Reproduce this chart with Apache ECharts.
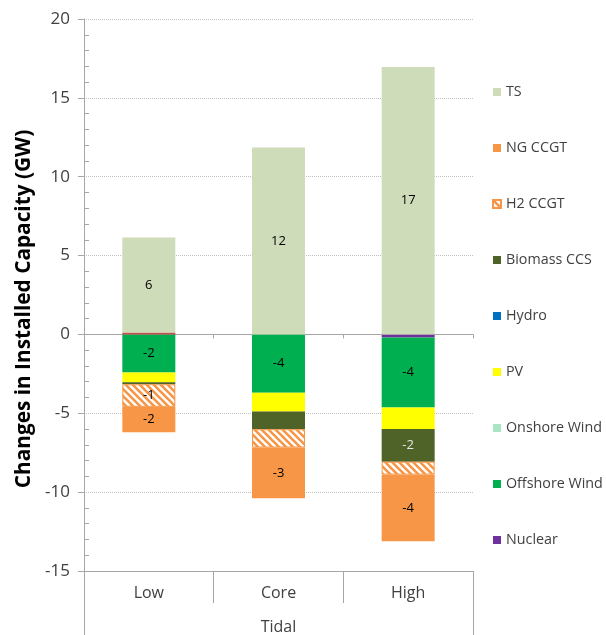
<!DOCTYPE html>
<html>
<head>
<meta charset="utf-8">
<script src="https://cdn.jsdelivr.net/npm/echarts@6/dist/echarts.min.js"></script>
<style>html,body{margin:0;padding:0;background:#fff;}#c{width:606px;height:635px;}</style>
</head>
<body>
<div id="c"></div>
<script>
// ---- data ----
var categories = ['Low', 'Core', 'High'];
var groupLabel = ['Tidal'];
var nuclear      = [0, 0, -0.2];
var offshoreWind = [-2.42, -3.69, -4.43];
var onshoreWind  = [0, 0, 0];
var pv           = [-0.62, -1.2, -1.37];
var hydro        = [0, 0, 0];
var biomassCCS   = [-0.12, -1.12, -2.07];
var h2CCGT       = [-1.43, -1.16, -0.82];
var ngCCGT       = [-1.62, -3.21, -4.22];
var other        = [0.12, 0, 0];
var ts           = [6.03, 11.85, 16.96];
var yTicks = { min: -15, max: 20, step: 5 };

// ---- styles ----
var FONT = '"Open Sans", "Noto Sans", sans-serif';
function hatch() {
  var s = 7, cv = document.createElement('canvas');
  cv.width = s; cv.height = s;
  var ctx = cv.getContext('2d');
  ctx.fillStyle = '#ffffff'; ctx.fillRect(0, 0, s, s);
  ctx.strokeStyle = '#f79646'; ctx.lineWidth = 2.6;
  ctx.beginPath();
  for (var k = -1; k <= 1; k++) { ctx.moveTo(k * s - 1, -1); ctx.lineTo(k * s + s + 1, s + 1); }
  ctx.stroke();
  return cv;
}
function lbl(color) {
  return {
    show: true, position: 'inside', color: color || '#000', fontSize: 13, fontFamily: FONT,
    formatter: function (p) { return Math.abs(p.value) >= 1.3 ? String(Math.round(p.value)) : ''; }
  };
}
function bar(name, data, color, extra) {
  var s = {
    name: name, type: 'bar', stack: 'total', data: data, barWidth: 53,
    xAxisIndex: 0, yAxisIndex: 0,
    itemStyle: { color: color },
    label: { show: false }, emphasis: { disabled: true }
  };
  for (var k in extra) s[k] = extra[k];
  return s;
}

var chart = echarts.init(document.getElementById('c'), null, { renderer: 'canvas' });
var axisGrey = '#a6a6a6';
chart.setOption({
  animation: false,
  grid: { left: 84, right: 133, top: 19, bottom: 62, containLabel: false },
  graphic: [{
    type: 'text', x: 24, y: 309, rotation: Math.PI / 2,
    style: { text: 'Changes in Installed Capacity (GW)', font: 'bold 20.8px ' + FONT, fill: '#000',
      textAlign: 'center', textVerticalAlign: 'middle' }
  }],
  legend: {
    orient: 'vertical', left: 487, top: 77, itemGap: 36, itemWidth: 8, itemHeight: 8, icon: 'rect',
    textStyle: { fontSize: 14.3, fontFamily: FONT, color: '#404040', lineHeight: 20 },
    selectedMode: false,
    data: ['TS', 'NG CCGT', 'H2 CCGT', 'Biomass CCS', 'Hydro', 'PV', 'Onshore Wind', 'Offshore Wind', 'Nuclear']
  },
  xAxis: [
    {
      type: 'category', data: categories, position: 'bottom',
      axisLine: { onZero: false, lineStyle: { color: axisGrey } },
      axisTick: { show: true, length: 32, alignWithLabel: false, lineStyle: { color: axisGrey } },
      axisLabel: { margin: 14, fontSize: 16, fontFamily: FONT, color: '#404040' },
      splitLine: { show: false }
    },
    {
      type: 'category', data: groupLabel, position: 'bottom',
      axisLine: { onZero: false, lineStyle: { color: axisGrey } },
      axisTick: { show: true, length: 64, lineStyle: { color: axisGrey } },
      axisLabel: { margin: 48, fontSize: 16, fontFamily: FONT, color: '#404040' },
      splitLine: { show: false }
    },
    {
      type: 'category', data: categories, position: 'bottom',
      axisLine: { onZero: true, onZeroAxisIndex: 0, lineStyle: { color: axisGrey } },
      axisTick: { show: true, length: 4, lineStyle: { color: axisGrey } },
      axisLabel: { show: false },
      splitLine: { show: false }
    }
  ],
  yAxis: [
    {
      type: 'value', min: yTicks.min, max: yTicks.max, interval: yTicks.step, position: 'left',
      axisLine: { show: true, lineStyle: { color: axisGrey } },
      axisTick: { show: true, length: 6, lineStyle: { color: axisGrey } },
      axisLabel: { margin: 14, fontSize: 17, fontFamily: FONT, color: '#404040' },
      splitLine: { show: true, lineStyle: { color: '#bfbfbf', type: [1, 1], width: 1 } }
    },
    {
      type: 'value', min: yTicks.min, max: yTicks.max, interval: yTicks.step, position: 'left',
      axisLine: { show: false },
      axisTick: { show: false, inside: true },
      minorTick: { show: true, splitNumber: 5, length: 5, lineStyle: { color: axisGrey } },
      axisLabel: { show: false },
      splitLine: { show: false }
    }
  ],
  series: [
    bar('Nuclear', nuclear, '#7030a0'),
    bar('Offshore Wind', offshoreWind, '#00b050', { label: lbl('#000') }),
    bar('Onshore Wind', onshoreWind, '#a9e5c3'),
    bar('PV', pv, '#ffff00'),
    bar('Hydro', hydro, '#0070c0'),
    bar('Biomass CCS', biomassCCS, '#4f6228', { label: lbl('#e6e6e6') }),
    bar('H2 CCGT', h2CCGT, { image: hatch(), repeat: 'repeat' },
      { itemStyle: { color: { image: hatch(), repeat: 'repeat' }, borderColor: '#f79646', borderWidth: 1 }, label: lbl('#000') }),
    bar('NG CCGT', ngCCGT, '#f79646', { label: lbl('#000') }),
    bar('Other', other, '#c0504d'),
    bar('TS', ts, '#cfdcb9', { label: lbl('#000') })
  ]
});
</script>
</body>
</html>
